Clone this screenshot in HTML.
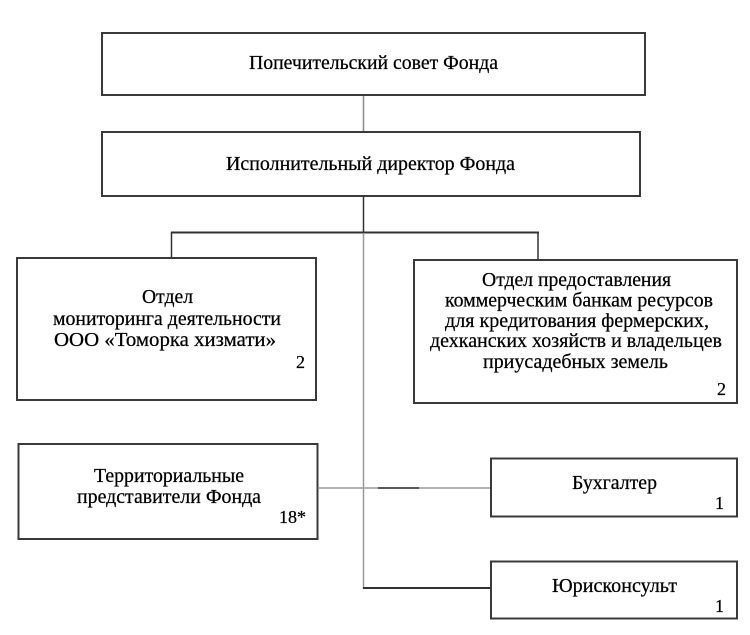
<!DOCTYPE html>
<html>
<head>
<meta charset="utf-8">
<style>
  html, body { margin: 0; padding: 0; background: #ffffff; }
  body { width: 750px; height: 635px; overflow: hidden; }
  svg { display: block; }
  text { font-family: "Liberation Serif", "DejaVu Serif", serif; font-size: 20px; fill: #000; stroke: #000; stroke-width: 0.25px; }
  .n { font-size: 18px; }
</style>
</head>
<body>
<svg width="750" height="635" viewBox="0 0 750 635" xmlns="http://www.w3.org/2000/svg">
  <!-- connectors -->
  <line x1="363.5" y1="96" x2="363.5" y2="132" stroke="#8a8a8a" stroke-width="1.5"/>
  <line x1="363.5" y1="197" x2="363.5" y2="233" stroke="#333" stroke-width="1.5"/>
  <line x1="171" y1="232.5" x2="539" y2="232.5" stroke="#333" stroke-width="2"/>
  <line x1="171.5" y1="232" x2="171.5" y2="258" stroke="#333" stroke-width="1.5"/>
  <line x1="538" y1="232" x2="538" y2="260" stroke="#333" stroke-width="1.5"/>
  <line x1="363.5" y1="233" x2="363.5" y2="589" stroke="#9a9a9a" stroke-width="1.5"/>
  <line x1="363" y1="588" x2="491" y2="588" stroke="#333" stroke-width="2"/>
  <line x1="319" y1="488" x2="491" y2="488" stroke="#999" stroke-width="1.5"/>
  <line x1="378" y1="488" x2="419" y2="488" stroke="#333" stroke-width="1.5"/>

  <!-- boxes -->
  <rect x="102" y="33" width="543" height="62" fill="#fff" stroke="#3a3a3a" stroke-width="2"/>
  <rect x="102" y="132" width="538" height="64" fill="#fff" stroke="#3a3a3a" stroke-width="2"/>
  <rect x="17" y="258" width="299" height="142" fill="#fff" stroke="#3a3a3a" stroke-width="2"/>
  <rect x="414" y="260" width="323" height="143" fill="#fff" stroke="#3a3a3a" stroke-width="2"/>
  <rect x="18.5" y="444" width="299" height="95" fill="#fff" stroke="#3a3a3a" stroke-width="2"/>
  <rect x="491" y="458.5" width="246" height="58" fill="#fff" stroke="#3a3a3a" stroke-width="2"/>
  <rect x="491" y="561.5" width="246" height="57" fill="#fff" stroke="#3a3a3a" stroke-width="2"/>

  <!-- texts -->
  <text x="249" y="69" textLength="249" lengthAdjust="spacingAndGlyphs">Попечительский совет Фонда</text>
  <text x="226" y="170" textLength="289" lengthAdjust="spacingAndGlyphs">Исполнительный директор Фонда</text>

  <text x="142" y="303" textLength="51" lengthAdjust="spacingAndGlyphs">Отдел</text>
  <text x="53" y="325" textLength="228" lengthAdjust="spacingAndGlyphs">мониторинга деятельности</text>
  <text x="54" y="346" textLength="222" lengthAdjust="spacingAndGlyphs">ООО «Томорка хизмати»</text>
  <text class="n" x="305" y="368" text-anchor="end">2</text>

  <text x="482" y="286" textLength="189" lengthAdjust="spacingAndGlyphs">Отдел предоставления</text>
  <text x="445" y="306.5" textLength="268" lengthAdjust="spacingAndGlyphs">коммерческим банкам ресурсов</text>
  <text x="445" y="327" textLength="264" lengthAdjust="spacingAndGlyphs">для кредитования фермерских,</text>
  <text x="430" y="347" textLength="292" lengthAdjust="spacingAndGlyphs">дехканских хозяйств и владельцев</text>
  <text x="483" y="368" textLength="185" lengthAdjust="spacingAndGlyphs">приусадебных земель</text>
  <text class="n" x="726" y="395" text-anchor="end">2</text>

  <text x="94" y="482" textLength="150" lengthAdjust="spacingAndGlyphs">Территориальные</text>
  <text x="77" y="503" textLength="184" lengthAdjust="spacingAndGlyphs">представители Фонда</text>
  <text class="n" x="306" y="523" text-anchor="end">18*</text>

  <text x="572" y="489" textLength="85" lengthAdjust="spacingAndGlyphs">Бухгалтер</text>
  <text class="n" x="724" y="509" text-anchor="end">1</text>

  <text x="552" y="592" textLength="125" lengthAdjust="spacingAndGlyphs">Юрисконсульт</text>
  <text class="n" x="724" y="612" text-anchor="end">1</text>
</svg>
</body>
</html>
